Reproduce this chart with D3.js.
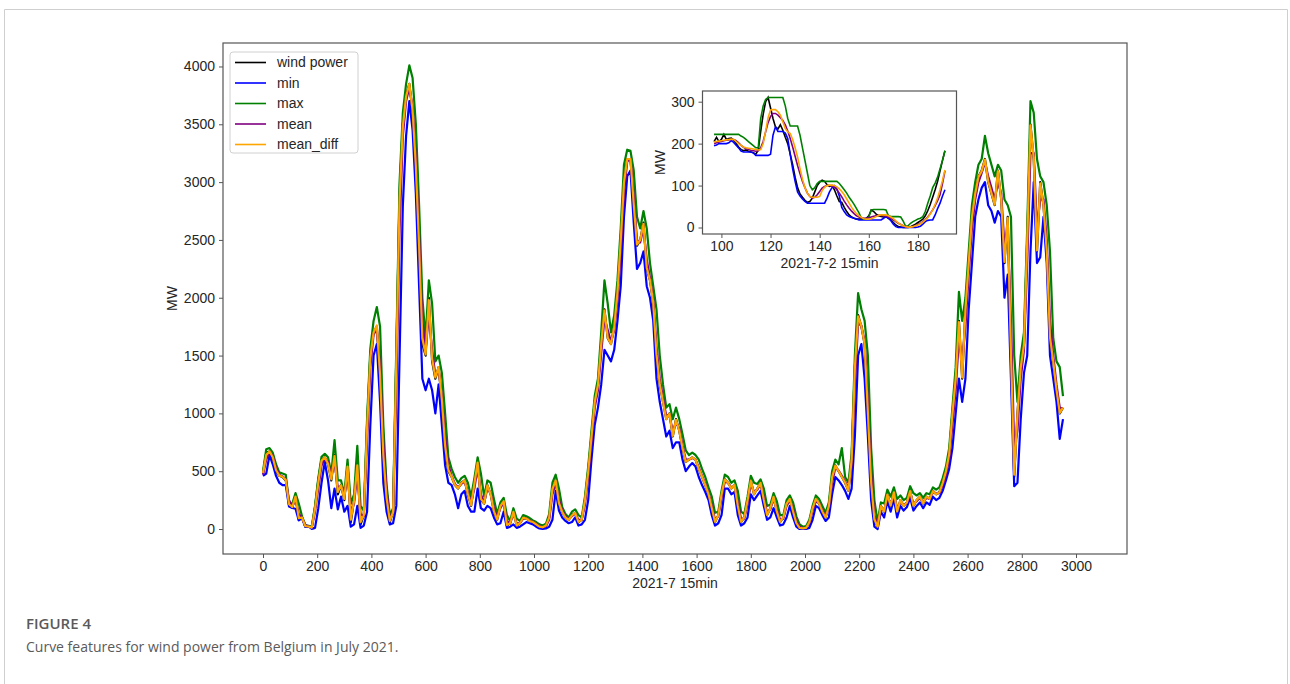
<!DOCTYPE html>
<html><head><meta charset="utf-8">
<script src="https://cdn.jsdelivr.net/npm/d3@7"></script>
<style>body{margin:0;background:#fff}svg{display:block}</style>
</head><body>
<svg id="c" width="1290" height="684"></svg>
<script>
// ---------- DATA ----------
// Main chart: one sample every 12 quarter-hours (3 h), July 2021
const mainIndex = d3.range(0, 2953, 12);
const windPower = [
480,660,670,610,500,460,450,420,210,186,285,80,98,20,22,12,
190,420,600,620,560,420,640,300,380,250,550,60,250,560,40,120,
900,1500,1700,1750,1300,600,250,60,150,1500,2900,3500,3750,3850,3600,3100,
2400,1600,1500,2000,1450,1300,1400,1100,700,500,450,380,350,400,420,300,
200,400,580,250,220,380,300,150,80,200,240,30,50,150,30,50,
100,90,70,60,40,20,15,30,100,350,420,220,150,100,80,120,
140,60,80,250,500,800,1100,1250,1600,1900,1650,1600,1750,2050,2500,3000,
3200,3200,2800,2450,2500,2650,2250,2150,1950,1500,1250,1100,950,1000,800,950,
850,700,580,600,620,600,520,450,380,300,180,60,120,300,430,400,
350,380,200,60,100,250,420,300,350,400,250,120,180,280,150,60,
100,220,260,150,50,10,5,10,60,180,260,220,150,100,200,450,
550,500,450,400,330,600,1400,1850,1750,1600,1000,400,80,20,200,150,
300,200,320,150,250,200,230,330,200,250,280,220,280,260,330,300,
320,400,500,650,1000,1300,1800,1300,1900,2300,2700,2900,3050,3100,3200,3000,
2900,2800,3100,2850,2300,2700,1500,450,1000,1400,1600,2500,3500,3200,2400,3000,
2800,2400,1650,1450,1200,1000,1050];
const minValues = [
460,480,640,560,460,400,380,380,195,182,175,75,95,18,22,1,
10,180,400,580,420,180,350,170,280,150,200,20,40,200,10,30,
150,900,1500,1600,1100,400,150,40,50,200,1500,2800,3400,3700,3450,2900,
2100,1300,1200,1300,1200,1000,1250,900,550,400,380,300,180,300,330,200,
150,150,350,180,160,200,180,100,40,50,150,10,20,40,10,20,
40,60,50,40,20,5,0,5,20,80,330,160,100,70,50,60,
100,30,40,80,250,600,900,1050,1250,1550,1500,1450,1550,1800,2100,2700,
3050,3100,2650,2250,2300,2400,2100,2000,1800,1300,1100,950,800,850,700,750,
750,600,500,540,570,540,450,380,320,250,120,30,50,120,350,350,
300,320,120,30,50,100,300,250,290,330,200,80,100,180,100,30,
40,100,200,100,20,0,0,0,10,80,200,180,120,70,100,300,
450,420,380,330,260,350,800,1500,1600,1300,800,250,20,0,150,100,
240,150,260,100,200,160,190,270,160,200,230,180,230,210,280,250,
270,330,420,520,700,1000,1300,1100,1300,1900,2300,2700,2850,2950,3000,2800,
2750,2650,2750,2700,2000,2200,1300,370,400,950,1350,1500,2400,3000,2300,2350,
2700,2300,1500,1300,1100,780,950];
const maxValues = [
500,690,700,660,560,490,480,470,222,218,310,220,110,35,28,20,
200,440,625,650,620,480,770,420,420,300,600,220,300,720,200,160,
950,1560,1800,1920,1750,900,380,120,180,1580,3000,3600,3850,4010,3900,3500,
2800,2000,1650,2150,1950,1450,1500,1350,1000,620,520,450,400,440,460,400,
280,440,620,480,280,420,400,260,130,230,270,120,70,180,90,70,
120,110,95,75,60,40,30,45,130,400,470,350,190,130,100,150,
170,120,100,280,540,850,1150,1300,1700,2150,1950,1700,1850,2150,2600,3150,
3280,3270,3100,2700,2600,2750,2600,2300,2100,1900,1500,1250,1050,1080,950,1050,
950,820,680,640,660,640,600,520,450,360,280,140,150,330,470,450,
400,420,330,150,130,280,460,400,390,430,350,200,210,310,240,120,
120,250,290,230,110,40,20,25,80,200,290,260,200,140,230,500,
600,560,700,450,400,650,1500,2040,1900,1800,1500,700,250,60,230,220,
340,280,360,260,290,250,270,370,310,290,310,270,310,300,360,340,
360,440,540,700,1050,1400,2050,1800,2000,2400,2800,3000,3150,3200,3400,3250,
3150,3050,3150,3100,2850,2800,2700,1500,1100,1500,1700,2600,3700,3600,3200,3050,
3000,2800,2400,1650,1450,1400,1150];
const meanValues = [
470,600,670,630,530,470,455,430,250,195,250,130,95,35,22,15,
150,350,550,610,580,460,580,360,370,280,480,150,220,480,130,110,
750,1400,1680,1730,1400,750,330,100,130,1200,2600,3400,3700,3820,3650,3200,
2550,1800,1550,1850,1550,1330,1380,1150,800,550,460,390,360,390,410,320,
230,350,530,300,230,350,310,180,100,180,230,70,50,130,50,50,
90,90,75,60,45,25,15,25,80,300,400,250,160,110,85,110,
135,80,80,210,450,750,1050,1200,1520,1820,1720,1620,1720,1980,2400,2900,
3180,3200,2880,2500,2480,2600,2330,2170,1980,1580,1300,1130,980,990,840,920,
870,720,600,600,615,600,530,460,390,310,200,80,110,270,410,400,
360,370,230,90,90,220,390,320,340,390,270,140,170,260,170,80,
90,200,250,170,70,20,8,10,50,160,240,225,160,110,180,400,
530,505,460,410,350,550,1250,1780,1760,1620,1100,480,120,30,170,160,
270,220,300,180,230,210,225,310,220,240,270,230,270,260,320,305,
310,380,470,600,900,1200,1650,1450,1750,2200,2600,2850,3000,3080,3170,3050,
2950,2850,3000,2900,2450,2600,1800,700,850,1300,1550,2300,3250,3250,2600,2850,
2850,2500,1800,1500,1250,1050,1040];
const meanDiffValues = [
485,640,672,620,510,462,452,425,215,190,280,95,98,25,22,12,
175,400,590,620,565,430,630,320,378,260,540,80,245,550,60,118,
870,1480,1700,1760,1330,640,270,70,145,1450,2850,3480,3740,3850,3620,3140,
2450,1650,1510,1980,1470,1310,1400,1120,720,510,452,382,352,398,420,305,
205,390,575,260,222,378,302,155,82,198,240,35,50,148,32,50,
98,90,70,60,41,21,15,30,98,345,420,225,150,100,80,118,
140,62,80,245,495,795,1095,1245,1595,1890,1655,1600,1745,2045,2495,2995,
3200,3200,2810,2460,2500,2640,2260,2150,1955,1510,1255,1100,950,998,805,945,
850,702,582,600,620,600,522,452,382,302,182,62,120,298,428,400,
350,380,202,62,100,248,418,302,350,398,252,122,180,278,152,62,
100,218,260,152,52,10,5,10,58,178,260,222,152,100,198,445,
548,502,450,402,332,595,1390,1840,1755,1600,1010,405,85,20,198,152,
298,202,318,152,250,200,230,328,202,250,280,222,280,260,328,300,
318,398,498,648,995,1295,1790,1310,1895,2295,2695,2900,3045,3095,3195,3005,
2905,2805,3095,2855,2310,2690,1520,470,990,1395,1595,2490,3490,3210,2410,2990,
2800,2405,1660,1450,1205,1005,1050];

// Inset: 2021-7-2, every quarter-hour from index 97 to 191
const insetIndex = d3.range(97, 192);
const insetWind = [
205,215,205,210,222,210,212,213,208,200,192,186,183,185,182,180,178,175,185,230,
270,300,310,285,260,240,235,245,232,215,200,175,150,120,95,80,72,65,60,62,
70,85,100,108,113,110,102,98,100,90,75,62,60,48,38,30,25,22,20,20,
20,20,22,28,42,38,32,28,26,25,26,22,18,12,6,2,1,0,0,0,
2,5,8,12,16,20,28,40,55,72,90,110,135,160,183];
const insetMin = [
195,197,200,200,200,200,202,207,203,196,190,182,180,180,180,180,178,172,172,172,
172,172,172,175,220,240,229,229,229,225,212,175,140,110,85,75,68,62,58,58,
58,58,58,58,58,58,70,85,95,100,92,75,48,38,30,26,24,22,20,18,
18,18,18,18,18,18,18,18,18,22,26,22,16,8,2,0,0,0,0,0,
0,0,0,1,3,8,14,17,18,18,30,45,58,75,90];
const insetMax = [
222,222,222,222,222,222,222,222,222,222,222,218,215,210,205,200,195,190,190,260,
290,305,310,310,310,310,310,310,310,290,260,242,242,242,242,220,190,160,130,100,
90,95,105,110,110,110,110,110,110,110,110,105,98,90,82,72,64,55,45,35,
22,20,20,25,42,43,43,43,43,43,42,28,26,26,26,26,25,15,3,4,
10,14,17,20,22,26,38,58,75,95,106,120,140,160,183];
const insetMean = [
200,202,204,205,207,208,209,210,210,207,202,196,191,188,186,184,183,182,183,190,
205,228,250,265,272,272,268,262,255,245,230,212,192,170,148,128,110,95,82,74,
70,72,78,86,94,98,100,100,99,96,90,82,73,63,54,46,39,33,28,25,
23,22,22,23,25,27,28,29,29,28,27,25,22,18,14,10,7,4,2,1,
1,2,4,7,10,14,19,25,33,42,52,64,78,105,135];
const insetMeanDiff = [
204,205,206,207,208,209,210,211,210,205,200,196,192,190,189,188,187,186,185,186,
200,230,262,280,281,281,276,268,252,236,228,224,210,190,168,140,115,95,82,74,
72,72,72,74,88,96,100,101,101,100,97,92,86,78,68,58,48,40,33,28,
24,21,20,20,21,23,26,29,30,30,30,28,25,21,16,11,7,4,2,1,
1,2,4,6,9,13,18,24,32,42,55,70,90,112,137];

const seriesNames = ["wind power", "min", "max", "mean", "mean_diff"];
const seriesColors = ["#000000", "#0000ff", "#008000", "#800080", "#ffa500"];
const mainXTicks = d3.range(0, 3001, 200);
const mainYTicks = d3.range(0, 4001, 500);
const insetXTicks = [100, 120, 140, 160, 180];
const insetYTicks = [0, 100, 200, 300];

// ---------- DRAW ----------
const svg = d3.select("#c");
const FONT = "'Liberation Sans', Arial, Helvetica, sans-serif";
const TXT = "#262626";

// figure frame
svg.append("path").attr("d", "M4.5,684V9.5H1287.5V684")
  .attr("fill", "none").attr("stroke", "#cfcfcf").attr("stroke-width", 1);

// main scales
const M = {l: 223, r: 1127, t: 43, b: 554};
const x = d3.scaleLinear().domain([0, 3000]).range([263, 1076]);
const y = d3.scaleLinear().domain([-216, 4203]).range([M.b, M.t]);

svg.append("clipPath").attr("id", "mclip").append("rect")
  .attr("x", M.l).attr("y", M.t).attr("width", M.r - M.l).attr("height", M.b - M.t);

const mainData = [windPower, minValues, maxValues, meanValues, meanDiffValues];
const gLines = svg.append("g").attr("clip-path", "url(#mclip)");
mainData.forEach((arr, k) => {
  const line = d3.line().x((d, i) => x(mainIndex[i])).y(d => y(d));
  gLines.append("path").datum(arr).attr("d", line)
    .attr("fill", "none").attr("stroke", seriesColors[k])
    .attr("stroke-width", 2.2).attr("stroke-linejoin", "round");
});

function styleAxis(g, fs) {
  g.select(".domain").remove();
  g.selectAll("line").attr("stroke", "#555").attr("stroke-width", 1);
  g.selectAll("text").attr("fill", TXT).style("font-family", FONT).style("font-size", fs + "px");
}
svg.append("g").attr("transform", `translate(0,${M.b})`)
  .call(d3.axisBottom(x).tickValues(mainXTicks).tickSize(4).tickPadding(3).tickFormat(d3.format("d")))
  .call(g => styleAxis(g, 14));
svg.append("g").attr("transform", `translate(${M.l},0)`)
  .call(d3.axisLeft(y).tickValues(mainYTicks).tickSize(4).tickPadding(4).tickFormat(d3.format("d")))
  .call(g => styleAxis(g, 14));
svg.append("rect").attr("x", M.l).attr("y", M.t).attr("width", M.r - M.l).attr("height", M.b - M.t)
  .attr("fill", "none").attr("stroke", "#555").attr("stroke-width", 1.2);

svg.append("text").attr("x", (M.l + M.r) / 2).attr("y", 588).attr("text-anchor", "middle")
  .attr("fill", TXT).style("font-family", FONT).style("font-size", "14px").text("2021-7 15min");
svg.append("text").attr("transform", `translate(177,${(M.t + M.b) / 2}) rotate(-90)`)
  .attr("text-anchor", "middle").attr("fill", TXT).style("font-family", FONT).style("font-size", "14px").text("MW");

// legend
const lg = svg.append("g");
lg.append("rect").attr("x", 230).attr("y", 52).attr("width", 128).attr("height", 101).attr("rx", 3)
  .attr("fill", "#fff").attr("fill-opacity", 0.85).attr("stroke", "#d0d0d0");
seriesNames.forEach((n, k) => {
  const yy = 62.5 + k * 20.5;
  lg.append("line").attr("x1", 235).attr("x2", 266).attr("y1", yy).attr("y2", yy)
    .attr("stroke", seriesColors[k]).attr("stroke-width", 1.6);
  lg.append("text").attr("x", 277).attr("y", yy).attr("dy", "0.35em").attr("fill", TXT)
    .style("font-family", FONT).style("font-size", "14px").text(n);
});

// inset
const I = {l: 702.5, r: 956.5, t: 91, b: 234};
const xi = d3.scaleLinear().domain([92.3, 195.7]).range([I.l, I.r]);
const yi = d3.scaleLinear().domain([-15.5, 325.5]).range([I.b, I.t]);
svg.append("rect").attr("x", I.l).attr("y", I.t).attr("width", I.r - I.l).attr("height", I.b - I.t).attr("fill", "#fff");
svg.append("clipPath").attr("id", "iclip").append("rect")
  .attr("x", I.l).attr("y", I.t).attr("width", I.r - I.l).attr("height", I.b - I.t);
const insetData = [insetWind, insetMin, insetMax, insetMean, insetMeanDiff];
const gi = svg.append("g").attr("clip-path", "url(#iclip)");
insetData.forEach((arr, k) => {
  const line = d3.line().x((d, i) => xi(insetIndex[i])).y(d => yi(d));
  gi.append("path").datum(arr).attr("d", line)
    .attr("fill", "none").attr("stroke", seriesColors[k]).attr("stroke-width", 1.6);
});
svg.append("g").attr("transform", `translate(0,${I.b})`)
  .call(d3.axisBottom(xi).tickValues(insetXTicks).tickSize(4).tickPadding(3).tickFormat(d3.format("d")))
  .call(g => styleAxis(g, 14));
svg.append("g").attr("transform", `translate(${I.l},0)`)
  .call(d3.axisLeft(yi).tickValues(insetYTicks).tickSize(4).tickPadding(4).tickFormat(d3.format("d")))
  .call(g => styleAxis(g, 14));
svg.append("rect").attr("x", I.l).attr("y", I.t).attr("width", I.r - I.l).attr("height", I.b - I.t)
  .attr("fill", "none").attr("stroke", "#555").attr("stroke-width", 1.2);
svg.append("text").attr("x", (I.l + I.r) / 2).attr("y", 268).attr("text-anchor", "middle")
  .attr("fill", TXT).style("font-family", FONT).style("font-size", "14px").text("2021-7-2 15min");
svg.append("text").attr("transform", `translate(665,${(I.t + I.b) / 2}) rotate(-90)`)
  .attr("text-anchor", "middle").attr("fill", TXT).style("font-family", FONT).style("font-size", "14px").text("MW");

// caption
svg.append("text").attr("x", 26).attr("y", 629).attr("fill", "#5a5a5a")
  .style("font-family", "'Open Sans', sans-serif").style("font-size", "15px").style("font-weight", 600)
  .text("FIGURE 4");
svg.append("text").attr("x", 26).attr("y", 652).attr("fill", "#5a5a5a")
  .style("font-family", "'Open Sans', sans-serif").style("font-size", "14px")
  .text("Curve features for wind power from Belgium in July 2021.");
</script>
</body></html>
